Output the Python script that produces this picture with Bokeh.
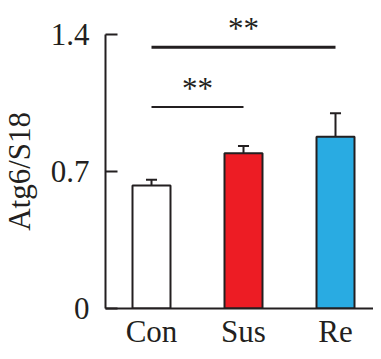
import math
from bokeh.plotting import figure
from bokeh.layouts import row
from bokeh.models import FixedTicker, Range1d, ColumnDataSource
from bokeh.core.properties import value
from bokeh.embed import file_html
from bokeh.resources import INLINE

groups = ["Con", "Sus", "Re"]
means = [0.628, 0.793, 0.877]
errors = [0.029, 0.037, 0.120]
colors = ["#FFFFFF", "#ED1C24", "#29ABE2"]
y_ticks = [0, 0.7, 1.4]
y_tick_labels = ["0", "0.7", "1.4"]
y_label = "Atg6/S18"
# significance brackets: (from group index, to group index, bar height)
sig_from = [0, 0]
sig_to = [1, 2]
sig_y = [1.029, 1.334]
sig_text = ["**", "**"]

FONT = "Liberation Serif"
FS = "31px"
INK = "#231F20"
xs = list(range(len(groups)))

yr = Range1d(0, 1.572)

p = figure(width=333, height=351, output_backend="svg", toolbar_location=None,
           x_range=Range1d(-0.5, 2.413), y_range=yr,
           min_border_left=65, min_border_right=0, min_border_top=0, min_border_bottom=40)
p.outline_line_color = None
p.grid.visible = False
p.background_fill_color = None
p.border_fill_color = "white"

upper = [m + e for m, e in zip(means, errors)]
src = ColumnDataSource(dict(x=xs, top=means, color=colors, upper=upper, base=means))
p.segment(x0="x", y0="base", x1="x", y1="upper", source=src, line_color=INK, line_width=2)
p.segment(x0=[x - 0.06 for x in xs], y0=upper, x1=[x + 0.06 for x in xs],
          y1=upper, line_color=INK, line_width=2)
p.vbar(x="x", top="top", bottom=0, width=0.413, source=src, fill_color="color",
       line_color=INK, line_width=2)

for a, b, h, t, lw in zip(sig_from, sig_to, sig_y, sig_text, [2, 3]):
    p.segment(x0=[a], y0=[h], x1=[b], y1=[h], line_color=INK, line_width=lw)
    p.text(x=[(a + b) / 2], y=[h + 0.095], text=[t], text_font=value(FONT),
           text_font_size=FS, text_align="center", text_baseline="alphabetic",
           text_color=INK)

p.yaxis.ticker = FixedTicker(ticks=y_ticks)
p.yaxis.major_label_overrides = {t: l for t, l in zip(y_ticks, y_tick_labels)}
p.yaxis.bounds = (0, 1.4)
p.yaxis.major_tick_in = 12
p.yaxis.major_tick_out = 0
p.yaxis.minor_tick_line_color = None
p.yaxis.major_label_standoff = 16

p.xaxis.ticker = FixedTicker(ticks=xs)
p.xaxis.major_label_overrides = {x: g for x, g in zip(xs, groups)}
p.xaxis.major_tick_in = 0
p.xaxis.major_tick_out = 0
p.xaxis.minor_tick_line_color = None
p.xaxis.major_label_standoff = 5

for ax in (p.xaxis, p.yaxis):
    ax.axis_line_width = 2
    ax.axis_line_color = INK
    ax.major_tick_line_width = 2
    ax.major_tick_line_color = INK
    ax.major_label_text_font = FONT
    ax.major_label_text_font_size = FS
    ax.major_label_text_color = INK

# narrow panel holding the rotated y-axis title, sharing the value range
lab = figure(width=40, height=351, output_backend="svg", toolbar_location=None,
             x_range=Range1d(0, 40), y_range=yr,
             x_axis_location=None, y_axis_location=None,
             min_border_left=0, min_border_right=0, min_border_top=0, min_border_bottom=40)
lab.outline_line_color = None
lab.grid.visible = False
lab.text(x=[19], y=[0.7], text=[y_label], angle=math.pi / 2, text_font=value(FONT),
         text_font_size=FS, text_align="center", text_baseline="middle",
         text_color=INK)

layout = row(lab, p, spacing=0)
open("out.html", "w").write(file_html(layout, INLINE))
